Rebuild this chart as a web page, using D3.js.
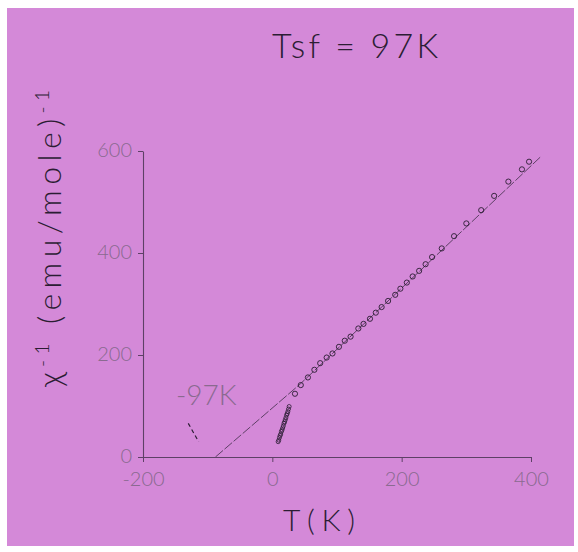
<!DOCTYPE html>
<html>
<head>
<meta charset="utf-8">
<script src="https://cdn.jsdelivr.net/npm/d3@7"></script>
<style>
  body { margin: 0; background: #fff; }
  text { font-family: Lato, "DejaVu Sans", sans-serif; }
</style>
</head>
<body>
<div id="chart"></div>
<script>
// values
var fitLineT = [-88, 43, 416];
var fitLineV = [0, 143, 590];

var highT = [35, 44, 55, 65, 74, 84, 93, 103, 112, 121, 133, 141, 151, 160, 169, 179, 190, 198, 208, 217, 227, 237, 247, 262, 281, 300, 323, 343, 365, 386, 397];
var highV = [124, 141, 156, 171, 184, 195, 203, 216, 228, 236, 252, 261, 271, 283, 294, 306, 318, 330, 342, 354, 365, 378, 392, 409, 433, 458, 484, 512, 540, 564, 579];

var lowT = [9, 10, 11, 12, 13, 14, 15, 16, 17, 18, 19, 20, 21, 22, 23, 24, 25, 26];
var lowV = [30, 33, 38, 42, 45, 50, 53, 57, 61, 66, 69, 73, 77, 82, 85, 89, 94, 99];

var markT = [-130, -114];
var markV = [66, 30];

var xTicks = [-200, 0, 200, 400];
var yTicks = [0, 200, 400, 600];

var width = 578, height = 552;
var inkColor = "#2b1d33";
var axisColor = "#5e4066";
var labelColor = "#8a6a90";

var svg = d3.select("#chart")
  .append("svg")
  .attr("width", width)
  .attr("height", height);

// scanned paper
svg.append("rect")
  .attr("x", 7).attr("y", 8)
  .attr("width", 567).attr("height", 538)
  .attr("fill", "#d489d8");

var x = d3.scaleLinear().domain([-200, 400]).range([143, 531]);
var y = d3.scaleLinear().domain([0, 600]).range([457, 151]);

// axes (plain hyphen minus like the original print)
var plain = function(d) { return String(d); };

var xAxis = svg.append("g")
  .attr("transform", "translate(0," + y(0) + ")")
  .call(d3.axisBottom(x).tickValues(xTicks).tickSize(5).tickSizeOuter(0).tickFormat(plain));

var yAxis = svg.append("g")
  .attr("transform", "translate(" + x(-200) + ",0)")
  .call(d3.axisLeft(y).tickValues(yTicks).tickSize(5).tickSizeOuter(0).tickPadding(6).tickFormat(plain));

[xAxis, yAxis].forEach(function(a) {
  a.select(".domain").attr("stroke", axisColor).attr("stroke-width", 1.1);
  a.selectAll(".tick line").attr("stroke", axisColor).attr("stroke-width", 1);
  a.selectAll(".tick text")
    .attr("fill", labelColor)
    .style("font-size", "20px")
    .style("font-weight", 300);
});
xAxis.selectAll(".tick text").attr("y", 15);
yAxis.selectAll(".tick text").attr("dy", "0.28em");

// fitted line
var line = d3.line()
  .x(function(d) { return x(d[0]); })
  .y(function(d) { return y(d[1]); });

svg.append("path")
  .datum(fitLineT.map(function(t, i) { return [t, fitLineV[i]]; }))
  .attr("d", line)
  .attr("fill", "none")
  .attr("stroke", axisColor)
  .attr("stroke-width", 1)
  .attr("stroke-dasharray", "10,2");

// measured points
svg.append("g").selectAll("circle")
  .data(highT.map(function(t, i) { return [t, highV[i]]; }))
  .enter()
  .append("circle")
  .attr("cx", function(d) { return x(d[0]); })
  .attr("cy", function(d) { return y(d[1]); })
  .attr("r", 2.6)
  .attr("fill", "none")
  .attr("stroke", inkColor)
  .attr("stroke-width", 0.9);

svg.append("g").selectAll("circle")
  .data(lowT.map(function(t, i) { return [t, lowV[i]]; }))
  .enter()
  .append("circle")
  .attr("cx", function(d) { return x(d[0]); })
  .attr("cy", function(d) { return y(d[1]); })
  .attr("r", 2)
  .attr("fill", "none")
  .attr("stroke", inkColor)
  .attr("stroke-width", 0.8);

// pencil mark under the label
svg.append("path")
  .datum(markT.map(function(t, i) { return [t, markV[i]]; }))
  .attr("d", line)
  .attr("stroke", inkColor)
  .attr("stroke-width", 1.2)
  .attr("stroke-dasharray", "4,3");

svg.append("text")
  .attr("x", 176).attr("y", 405)
  .attr("fill", labelColor)
  .style("font-size", "28px")
  .style("font-weight", 300)
  .text("-97K");

// handwritten notes
svg.append("text")
  .attr("x", 272).attr("y", 58)
  .attr("fill", inkColor)
  .attr("textLength", 166)
  .style("font-size", "34px")
  .style("font-weight", 300)
  .text("Tsf = 97K");

svg.append("text")
  .attr("x", 283).attr("y", 531)
  .attr("fill", inkColor)
  .attr("textLength", 72)
  .style("font-size", "30px")
  .style("font-weight", 300)
  .text("T(K)");

var yLabel = svg.append("text")
  .attr("transform", "translate(61,387) rotate(-90)")
  .attr("fill", inkColor)
  .attr("textLength", 297)
  .style("font-size", "32px")
  .style("font-weight", 300);
yLabel.append("tspan").text("χ");
yLabel.append("tspan").attr("dy", -12).style("font-size", "19px").text("-1");
yLabel.append("tspan").attr("dy", 12).text(" (emu/mole)");
yLabel.append("tspan").attr("dy", -12).style("font-size", "19px").text("-1");
</script>
</body>
</html>
